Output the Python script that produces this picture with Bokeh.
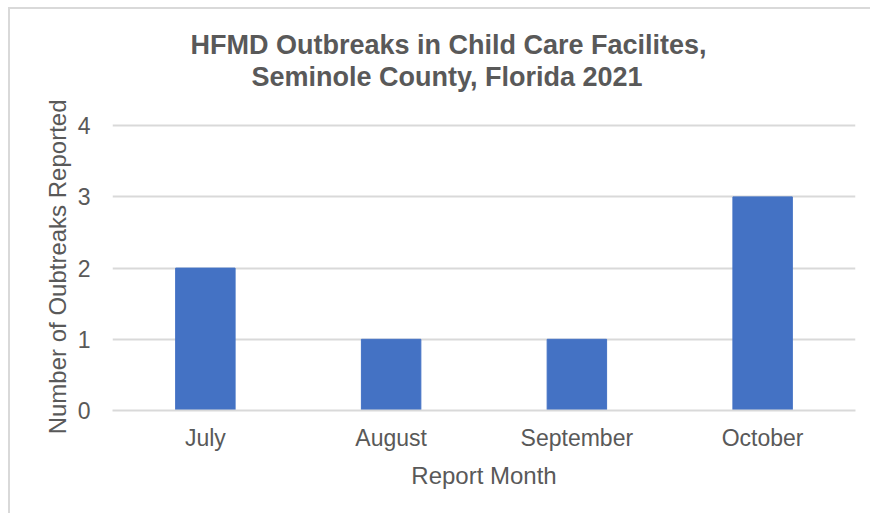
from bokeh.plotting import figure
from bokeh.models import Range1d, FactorRange, Title, ColumnDataSource
from bokeh.embed import file_html
from bokeh.resources import INLINE

months = ["July", "August", "September", "October"]
outbreaks = [2, 1, 1, 3]
y_ticks = [0, 1, 2, 3, 4]
title_lines = ["HFMD Outbreaks in Child Care Facilites,", "Seminole County, Florida 2021"]
x_title = "Report Month"
y_title = "Number of Oubtreaks Reported"

FONT = "Liberation Sans"
TXT = "#595959"
GRID = "#D9D9D9"
BAR = "#4472C4"

# frame reaches above the top gridline (4) so the two title lines sit snugly above it
p = figure(
    x_range=FactorRange(*months),
    y_range=Range1d(0, 4.48),
    width=862, height=506,
    output_backend="svg", toolbar_location=None,
    min_border_left=102, min_border_right=17,
    min_border_top=82, min_border_bottom=105,
)
p.styles = {"border-top": "2px solid #D9D9D9", "border-left": "2px solid #D9D9D9",
            "margin-top": "7px", "margin-left": "8px"}
p.outline_line_color = None
p.background_fill_color = "white"
p.border_fill_color = "white"

src = ColumnDataSource(dict(m=months, v=outbreaks))
p.vbar(x="m", top="v", width=0.32, source=src, fill_color=BAR, line_color=BAR)

p.xgrid.grid_line_color = None
p.ygrid.grid_line_color = GRID
p.ygrid.grid_line_width = 2
p.yaxis.ticker = y_ticks

for ax in (p.xaxis[0], p.yaxis[0]):
    ax.major_label_text_font = FONT
    ax.major_label_text_font_size = "23px"
    ax.major_label_text_color = TXT
    ax.axis_label_text_font = FONT
    ax.axis_label_text_font_size = "24px"
    ax.axis_label_text_color = TXT
    ax.axis_label_text_font_style = "normal"
    ax.major_tick_line_color = None
    ax.minor_tick_line_color = None

p.xaxis.axis_line_color = GRID
p.xaxis.axis_line_width = 2
p.yaxis.axis_line_color = None
p.xaxis.axis_label = x_title
p.xaxis.major_label_standoff = 8
p.xaxis.axis_label_standoff = 8
p.yaxis.major_label_standoff = 16

# y-axis title as a left-side title so it can be placed relative to the gridlines
p.add_layout(Title(text=y_title, align="right", offset=8, standoff=8,
                   text_font=FONT, text_font_size="24px", text_font_style="normal",
                   text_color=TXT), "left")

# figure's own title is the outer line; the added Title sits next to the frame
p.title.text = title_lines[0]
p.title.align = "left"
p.title.offset = 78
p.title.standoff = 0
p.title.text_font = FONT
p.title.text_font_size = "27px"
p.title.text_font_style = "bold"
p.title.text_color = TXT
p.add_layout(Title(text=title_lines[1], align="left", offset=139, standoff=0,
                   text_font=FONT, text_font_size="27px", text_font_style="bold",
                   text_color=TXT), "above")

open("out.html", "w").write(file_html(p, INLINE))
